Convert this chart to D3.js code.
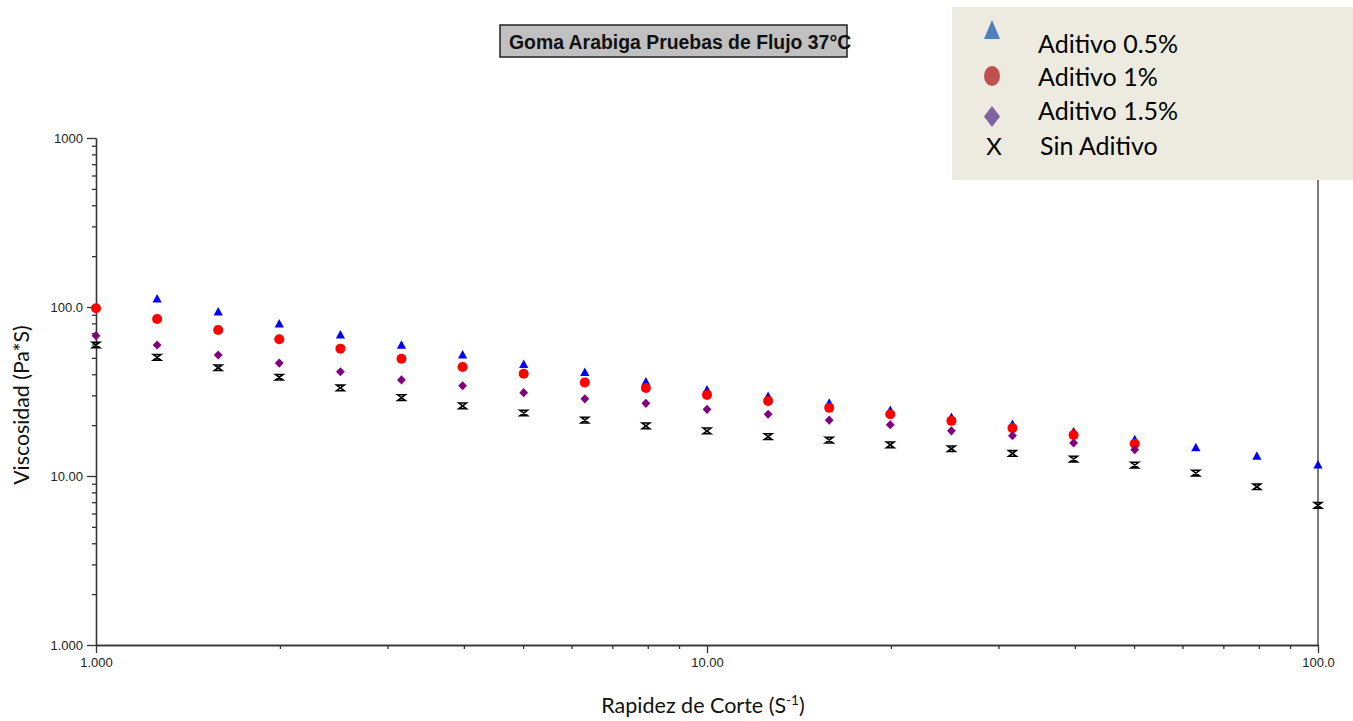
<!DOCTYPE html>
<html>
<head>
<meta charset="utf-8">
<script src="https://cdn.jsdelivr.net/npm/d3@7/dist/d3.min.js"></script>
<style>
  html, body { margin: 0; padding: 0; background: #ffffff; }
  svg { display: block; }
</style>
</head>
<body>
<script>
// Shear rate (1/s), log-spaced
const shearRate = [1.000, 1.259, 1.585, 1.995, 2.512, 3.162, 3.981, 5.012, 6.310, 7.943,
                   10.00, 12.59, 15.85, 19.95, 25.12, 31.62, 39.81, 50.12, 63.10, 79.43, 100.0];

// Viscosity (Pa*s) per series; null = no reading
const aditivo05 = [null, 111.5, 93.4, 79.3, 68.3, 59.3, 52.0, 45.7, 40.9, 36.0,
                   32.3, 29.5, 26.9, 24.4, 22.2, 20.2, 18.2, 16.4, 14.7, 13.1, 11.6];
const aditivo1  = [98.2, 84.9, 73.1, 64.4, 56.7, 49.4, 44.2, 40.3, 35.8, 33.2,
                   30.2, 27.8, 25.3, 23.2, 21.2, 19.2, 17.5, 15.5, null, null, null];
const aditivo15 = [67.7, 59.6, 52.0, 46.6, 41.4, 37.0, 34.2, 31.1, 28.6, 26.9,
                   24.8, 23.2, 21.4, 20.1, 18.5, 17.3, 15.7, 14.3, null, null, null];
const sinAditivo = [59.6, 50.4, 43.7, 38.4, 33.2, 29.1, 26.0, 23.6, 21.4, 19.8,
                    18.5, 17.1, 16.3, 15.3, 14.5, 13.6, 12.6, 11.6, 10.4, 8.64, 6.71];

// Axis ticks
const xMajor = [1, 10, 100];
const xTickLabels = ["1.000", "10.00", "100.0"];
const yMajor = [1, 10, 100, 1000];
const yTickLabels = ["1.000", "10.00", "100.0", "1000"];

const legendLabels = ["Aditivo 0.5%", "Aditivo 1%", "Aditivo 1.5%", "Sin Aditivo"];
const titleText = "Goma Arabiga Pruebas de Flujo 37°C";

const W = 1353, H = 721;
const svg = d3.select("body").append("svg").attr("width", W).attr("height", H);

const x = d3.scaleLog().domain([1, 100]).range([96, 1318]);
const y = d3.scaleLog().domain([1, 1000]).range([645, 138]);

const minorTicks = (lo, hi) => {
  const out = [];
  for (let dec = lo; dec < hi; dec *= 10)
    for (let k = 2; k <= 9; k++) out.push(dec * k);
  return out;
};

const axisColor = "#333";
const tickFont = "'Liberation Sans', Arial, sans-serif";

function styleAxis(g) {
  g.selectAll("path, line").attr("stroke", axisColor).attr("stroke-width", 1.3);
  g.selectAll("text").attr("fill", "#222").style("font-family", tickFont).style("font-size", "13px");
}

// Y axis: major ticks with labels, minor ticks unlabeled
svg.append("g").attr("transform", `translate(${x(1)},0)`)
  .call(d3.axisLeft(y).tickValues(minorTicks(1, 1000)).tickSize(4).tickSizeOuter(0).tickFormat(""))
  .call(styleAxis);
svg.append("g").attr("transform", `translate(${x(1)},0)`)
  .call(d3.axisLeft(y).tickValues(yMajor).tickSize(9).tickSizeOuter(0).tickPadding(4)
        .tickFormat((d, i) => yTickLabels[i]))
  .call(styleAxis);

// X axis
svg.append("g").attr("transform", `translate(0,${y(1)})`)
  .call(d3.axisBottom(x).tickValues(minorTicks(1, 100)).tickSize(4).tickSizeOuter(0).tickFormat(""))
  .call(styleAxis);
svg.append("g").attr("transform", `translate(0,${y(1)})`)
  .call(d3.axisBottom(x).tickValues(xMajor).tickSize(8).tickSizeOuter(0).tickPadding(5)
        .tickFormat((d, i) => xTickLabels[i]))
  .call(styleAxis);

// Right frame line
svg.append("line")
  .attr("x1", x(100)).attr("x2", x(100)).attr("y1", y(1000)).attr("y2", y(1))
  .attr("stroke", axisColor).attr("stroke-width", 1.3);

// Markers
const plot = svg.append("g");
const pts = arr => shearRate.map((s, i) => ({ s, v: arr[i] })).filter(d => d.v != null);

plot.selectAll(".tri").data(pts(aditivo05)).join("path")
  .attr("d", "M0,-5 L4.6,3.5 L-4.6,3.5 Z")
  .attr("transform", d => `translate(${x(d.s)},${y(d.v)})`)
  .attr("fill", "#0000ff");

plot.selectAll(".dot").data(pts(aditivo1)).join("circle")
  .attr("cx", d => x(d.s)).attr("cy", d => y(d.v)).attr("r", 5)
  .attr("fill", "#ff0000");

plot.selectAll(".dia").data(pts(aditivo15)).join("path")
  .attr("d", "M0,-4.6 L4.4,0 L0,4.6 L-4.4,0 Z")
  .attr("transform", d => `translate(${x(d.s)},${y(d.v)})`)
  .attr("fill", "#800080");

plot.selectAll(".xm").data(pts(sinAditivo)).join("path")
  .attr("d", "M-3.8,-2.8 H3.8 L-3.8,2.8 H3.8 Z")
  .attr("transform", d => `translate(${x(d.s)},${y(d.v)})`)
  .attr("fill", "none").attr("stroke", "#000").attr("stroke-width", 1.6);

// Title box
svg.append("rect").attr("x", 500).attr("y", 25).attr("width", 347).attr("height", 32)
  .attr("fill", "#c0c0c0").attr("stroke", "#222").attr("stroke-width", 1.5);
svg.append("text").attr("x", 509).attr("y", 48.5)
  .style("font-family", tickFont).style("font-weight", "bold").style("font-size", "19.4px")
  .attr("fill", "#111").text(titleText);

// Axis titles
const labelFont = "Lato, 'Open Sans', sans-serif";
const xl = svg.append("text").attr("x", 703).attr("y", 713).attr("text-anchor", "middle")
  .style("font-family", labelFont).style("font-size", "21.5px").attr("fill", "#111");
xl.append("tspan").text("Rapidez de Corte (S");
xl.append("tspan").attr("dy", -8).style("font-size", "13.5px").text("-1");
xl.append("tspan").attr("dy", 8).text(")");

svg.append("text").attr("transform", "translate(29,405) rotate(-90)").attr("text-anchor", "middle")
  .style("font-family", labelFont).style("font-size", "21.3px").attr("fill", "#111")
  .text("Viscosidad (Pa*S)");

// Legend
const lg = svg.append("g");
lg.append("rect").attr("x", 952).attr("y", 7).attr("width", 410).attr("height", 173)
  .attr("fill", "#edeadf");
lg.append("path").attr("d", "M992,20 L1000,39 L984,39 Z").attr("fill", "#4f81bd");
lg.append("ellipse").attr("cx", 992).attr("cy", 76).attr("rx", 8).attr("ry", 10).attr("fill", "#c0504d");
lg.append("path").attr("d", "M992,106 L1000,116.5 L992,127 L984,116.5 Z").attr("fill", "#8064a2");
lg.append("text").attr("x", 994).attr("y", 155).attr("text-anchor", "middle")
  .style("font-family", labelFont).style("font-size", "24px").attr("fill", "#000").text("X");

const legendY = [52.5, 86, 120, 155];
const legendX = [1038, 1038, 1038, 1040];
lg.selectAll(".lt").data(legendLabels).join("text")
  .attr("x", (d, i) => legendX[i]).attr("y", (d, i) => legendY[i])
  .style("font-family", labelFont).style("font-size", "25px").attr("fill", "#000")
  .text(d => d);
</script>
</body>
</html>
